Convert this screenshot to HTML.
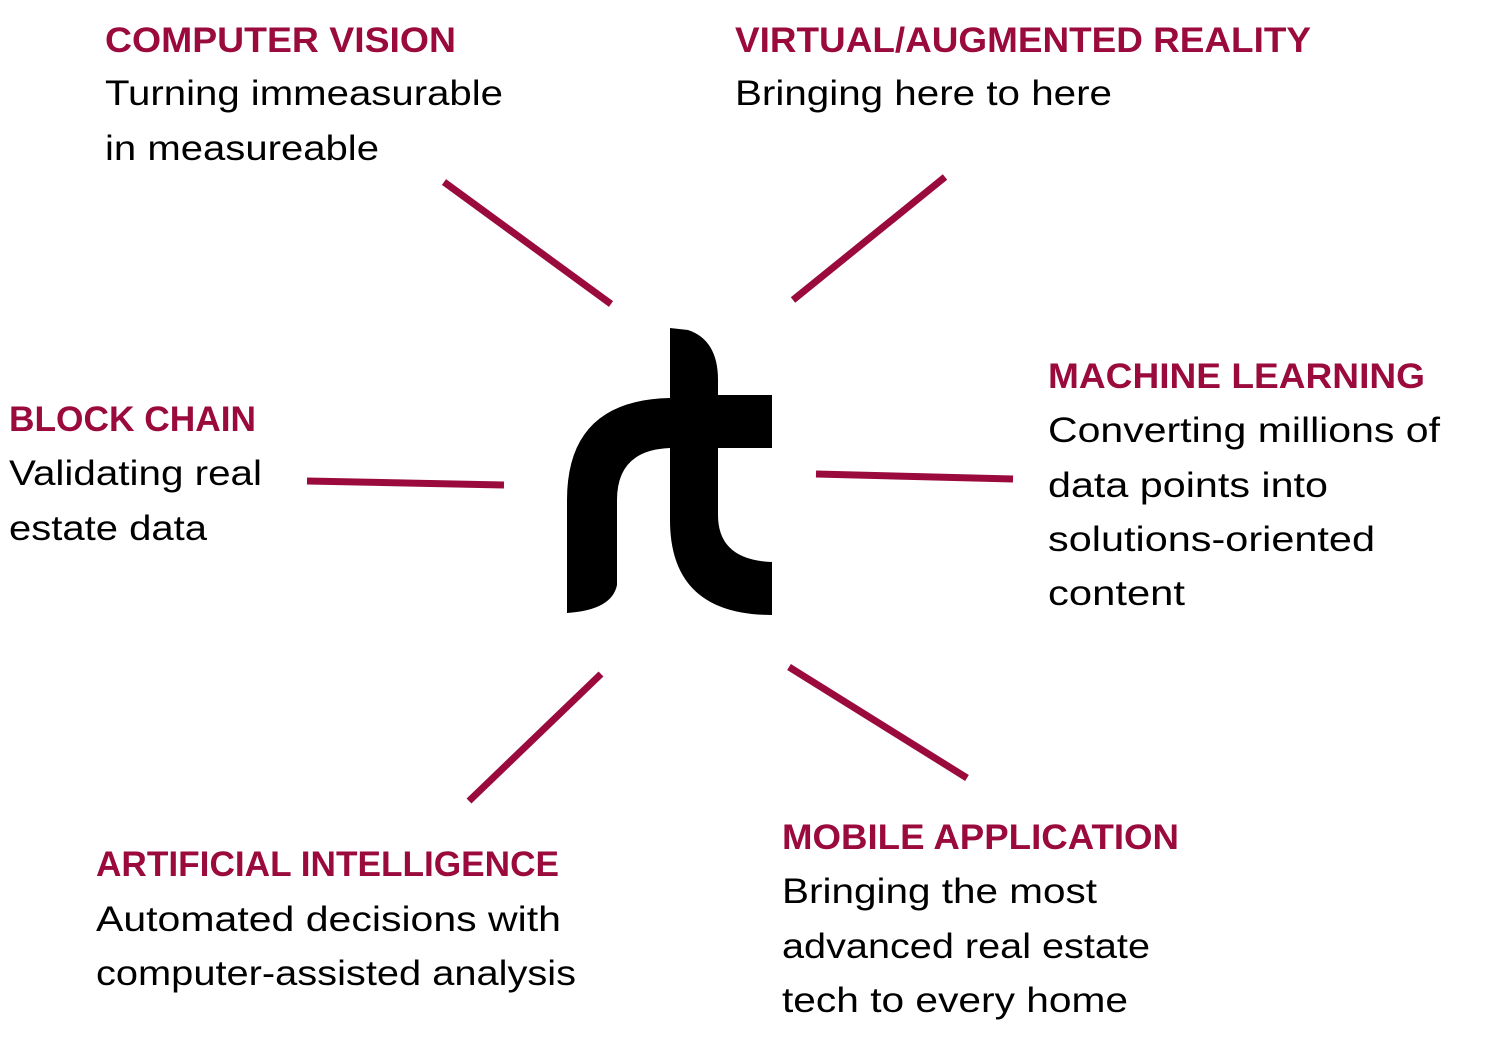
<!DOCTYPE html>
<html><head><meta charset="utf-8"><style>
html,body{margin:0;padding:0;background:#fff;}
svg{display:block;}
text{font-family:"Liberation Sans",sans-serif;font-size:35px;fill:#000;}
.h{fill:#9a0a3c;font-weight:bold;}
line{stroke:#9a0a3c;stroke-width:7;}
</style></head><body>
<svg width="1491" height="1041" viewBox="0 0 1491 1041" xmlns="http://www.w3.org/2000/svg">
<text class="h" x="105" y="52" textLength="351" lengthAdjust="spacingAndGlyphs">COMPUTER VISION</text>
<text x="105" y="105" textLength="398" lengthAdjust="spacingAndGlyphs">Turning immeasurable</text>
<text x="105" y="160" textLength="274" lengthAdjust="spacingAndGlyphs">in measureable</text>

<text class="h" x="735" y="52" textLength="576" lengthAdjust="spacingAndGlyphs">VIRTUAL/AUGMENTED REALITY</text>
<text x="735" y="105" textLength="377" lengthAdjust="spacingAndGlyphs">Bringing here to here</text>

<text class="h" x="1048" y="388" textLength="377" lengthAdjust="spacingAndGlyphs">MACHINE LEARNING</text>
<text x="1048" y="442" textLength="392" lengthAdjust="spacingAndGlyphs">Converting millions of</text>
<text x="1048" y="497" textLength="280" lengthAdjust="spacingAndGlyphs">data points into</text>
<text x="1048" y="551" textLength="327" lengthAdjust="spacingAndGlyphs">solutions-oriented</text>
<text x="1048" y="605" textLength="137" lengthAdjust="spacingAndGlyphs">content</text>

<text class="h" x="9" y="431" textLength="247" lengthAdjust="spacingAndGlyphs">BLOCK CHAIN</text>
<text x="9" y="485" textLength="253" lengthAdjust="spacingAndGlyphs">Validating real</text>
<text x="9" y="540" textLength="198" lengthAdjust="spacingAndGlyphs">estate data</text>

<text class="h" x="96" y="876" textLength="463" lengthAdjust="spacingAndGlyphs">ARTIFICIAL INTELLIGENCE</text>
<text x="96" y="931" textLength="465" lengthAdjust="spacingAndGlyphs">Automated decisions with</text>
<text x="96" y="985" textLength="480" lengthAdjust="spacingAndGlyphs">computer-assisted analysis</text>

<text class="h" x="782" y="849" textLength="397" lengthAdjust="spacingAndGlyphs">MOBILE APPLICATION</text>
<text x="782" y="903" textLength="315" lengthAdjust="spacingAndGlyphs">Bringing the most</text>
<text x="782" y="958" textLength="368" lengthAdjust="spacingAndGlyphs">advanced real estate</text>
<text x="782" y="1012" textLength="346" lengthAdjust="spacingAndGlyphs">tech to every home</text>

<line x1="444" y1="182" x2="611" y2="304"/>
<line x1="945" y1="177" x2="793" y2="300"/>
<line x1="307" y1="481" x2="504" y2="485"/>
<line x1="816" y1="474" x2="1013" y2="479"/>
<line x1="601" y1="674" x2="469" y2="801"/>
<line x1="789" y1="667" x2="967" y2="778"/>

<path fill="#000" d="M670,328 L688,330 Q718,340 718,380 L718,395 L772,395 L772,448 L718,448 L718,515 Q718,560 772,562 L772,615 Q670,615 670,520 Z"/>
<path fill="#000" d="M567,613 L567,500 Q567,400 670,398 L670,448 Q617,450 617,500 L617,585 Q612,610 567,613 Z"/>
</svg>
</body></html>
